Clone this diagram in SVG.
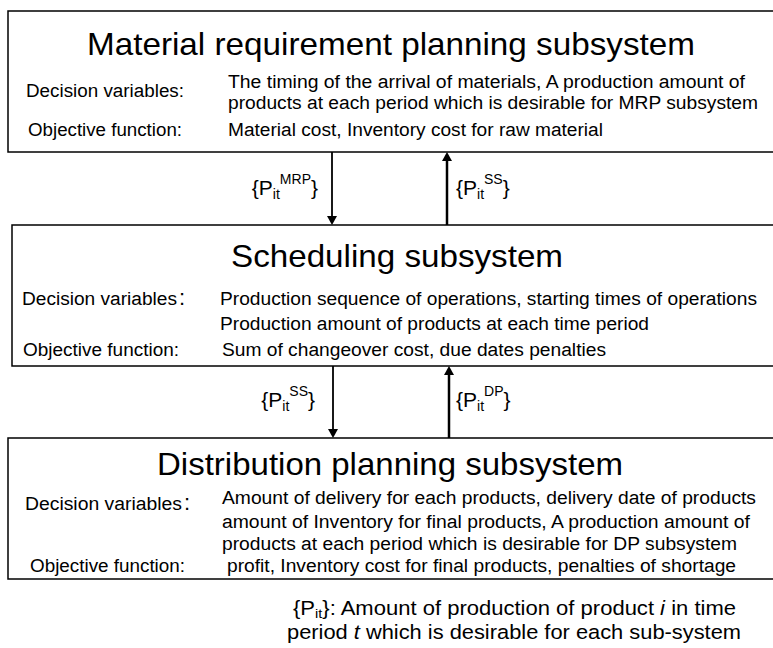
<svg xmlns="http://www.w3.org/2000/svg" width="773" height="648" viewBox="0 0 773 648">
<defs>
<style>
text{font-family:"Liberation Sans",Arial,sans-serif;fill:#000}
.box{fill:#fff;stroke:#000;stroke-width:1.5}
.t{font-size:31.5px}
.b{font-size:18px}
.c{font-size:22px}
.f{font-size:20.5px}
.fs{font-size:13.5px}
.lab{font-size:21px}
.s{font-size:14px}
.con{stroke:#000;fill:none}
</style>
<marker id="ah" markerUnits="userSpaceOnUse" markerWidth="9" markerHeight="10" viewBox="0 0 9 10" refX="2" refY="5" orient="auto"><path d="M0,0 L9,5 L0,10 z" fill="#000"/></marker>
</defs>
<rect width="773" height="648" fill="#fff"/>

<g id="mrp">
<rect class="box" x="8" y="11" width="800" height="141"/>
<text class="t" x="87" y="55" textLength="608" lengthAdjust="spacingAndGlyphs">Material requirement planning subsystem</text>
<text class="b" x="26" y="97" textLength="158" lengthAdjust="spacingAndGlyphs">Decision variables:</text>
<text class="b" x="228" y="88" textLength="517" lengthAdjust="spacingAndGlyphs">The timing of the arrival of materials, A production amount of</text>
<text class="b" x="228" y="109" textLength="530" lengthAdjust="spacingAndGlyphs">products at each period which is desirable for MRP subsystem</text>
<text class="b" x="28" y="136" textLength="154" lengthAdjust="spacingAndGlyphs">Objective function:</text>
<text class="b" x="228" y="136" textLength="375" lengthAdjust="spacingAndGlyphs">Material cost, Inventory cost for raw material</text>
</g>

<g id="ss">
<rect class="box" x="12" y="225" width="800" height="141"/>
<text class="t" x="231" y="267" textLength="332" lengthAdjust="spacingAndGlyphs">Scheduling subsystem</text>
<text class="b" x="22" y="305" textLength="155" lengthAdjust="spacingAndGlyphs">Decision variables</text>
<text class="c" x="179" y="305">:</text>
<text class="b" x="220" y="305" textLength="537" lengthAdjust="spacingAndGlyphs">Production sequence of operations, starting times of operations</text>
<text class="b" x="220" y="330" textLength="429" lengthAdjust="spacingAndGlyphs">Production amount of products at each time period</text>
<text class="b" x="23" y="356" textLength="156" lengthAdjust="spacingAndGlyphs">Objective function:</text>
<text class="b" x="222" y="356" textLength="384" lengthAdjust="spacingAndGlyphs">Sum of changeover cost, due dates penalties</text>
</g>

<g id="dp">
<rect class="box" x="8" y="438" width="800" height="141"/>
<text class="t" x="157" y="475" textLength="466" lengthAdjust="spacingAndGlyphs">Distribution planning subsystem</text>
<text class="b" x="25" y="510" textLength="157" lengthAdjust="spacingAndGlyphs">Decision variables</text>
<text class="c" x="184" y="510">:</text>
<text class="b" x="222" y="504" textLength="534" lengthAdjust="spacingAndGlyphs">Amount of delivery for each products,  delivery date of products</text>
<text class="b" x="222" y="528" textLength="528" lengthAdjust="spacingAndGlyphs">amount of Inventory for final products, A production amount of</text>
<text class="b" x="222" y="550" textLength="515" lengthAdjust="spacingAndGlyphs">products at each period which is desirable for DP subsystem</text>
<text class="b" x="30" y="572" textLength="155" lengthAdjust="spacingAndGlyphs">Objective function:</text>
<text class="b" x="227" y="572" textLength="509" lengthAdjust="spacingAndGlyphs">profit, Inventory cost for final products, penalties of shortage</text>
</g>

<g id="connectors">
<line class="con" x1="332" y1="152" x2="332" y2="218" stroke-width="1.8" marker-end="url(#ah)"/>
<line class="con" x1="447" y1="225" x2="447" y2="159" stroke-width="2.5" marker-end="url(#ah)"/>
<line class="con" x1="333" y1="366" x2="333" y2="431" stroke-width="1.8" marker-end="url(#ah)"/>
<line class="con" x1="449" y1="438" x2="449" y2="373" stroke-width="2.5" marker-end="url(#ah)"/>
<text class="lab" x="318" y="195" text-anchor="end">{P<tspan class="s" dy="4">it</tspan><tspan class="s" dy="-15">MRP</tspan><tspan dy="11">}</tspan></text>
<text class="lab" x="456" y="195">{P<tspan class="s" dy="4">it</tspan><tspan class="s" dy="-15">SS</tspan><tspan dy="11">}</tspan></text>
<text class="lab" x="315" y="407" text-anchor="end">{P<tspan class="s" dy="4">it</tspan><tspan class="s" dy="-15">SS</tspan><tspan dy="11">}</tspan></text>
<text class="lab" x="456" y="407">{P<tspan class="s" dy="4">it</tspan><tspan class="s" dy="-15">DP</tspan><tspan dy="11">}</tspan></text>
</g>

<g id="legend">
<text class="f" x="293" y="615" textLength="443" lengthAdjust="spacingAndGlyphs">{P<tspan class="fs" dy="3">it</tspan><tspan dy="-3">}: Amount of production of product </tspan><tspan font-style="italic">i</tspan> in time</text>
<text class="f" x="287" y="639" textLength="454" lengthAdjust="spacingAndGlyphs">period <tspan font-style="italic">t</tspan> which is desirable for each sub-system</text>
</g>
</svg>
